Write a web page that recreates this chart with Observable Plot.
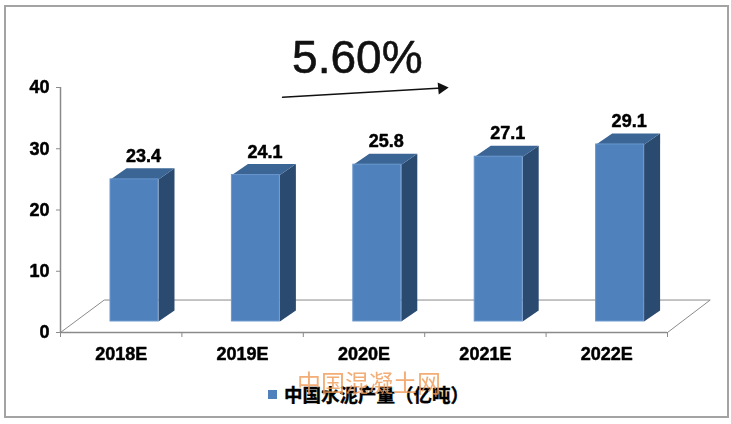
<!DOCTYPE html>
<html><head><meta charset="utf-8">
<script src="https://cdn.jsdelivr.net/npm/d3@7"></script>
<script src="https://cdn.jsdelivr.net/npm/@observablehq/plot@0.6"></script>
<style>
html,body{margin:0;padding:0;background:#fff;width:731px;height:424px;overflow:hidden}
#wrap{position:relative;width:731px;height:424px;font-family:"Liberation Sans",Arial,sans-serif}
#wrap svg{position:absolute;left:0;top:0;filter:blur(.35px)}
#border{position:absolute;left:4px;top:5px;width:721px;height:409px;border:2px solid #a3a3a3}
#legend{position:absolute;left:268px;top:382px;height:24px;display:flex;align-items:center;font:bold 18.5px "Noto Sans CJK SC",sans-serif;color:#000;white-space:nowrap;-webkit-text-stroke:.4px #000}
#legend i{display:inline-block;width:9px;height:9px;background:#4f81bd;margin-right:8px}
#legend span{margin-left:-1px}
#mark{position:absolute;left:297px;top:367px;font:24px "Noto Sans CJK SC",sans-serif;line-height:30px;color:#ef9a55;opacity:.8;white-space:nowrap}
</style></head>
<body><div id="wrap"><div id="border"></div><div id="chart"></div>
<div id="legend"><i></i><span>中国水泥产量（亿吨）</span></div>
<div id="mark">中国混凝土网</div></div>
<script>
const categories = ["2018E","2019E","2020E","2021E","2022E"];
const output = [23.4,24.1,25.8,27.1,29.1];
const yTicks = [0,10,20,30,40];
const growth = "5.60%";
const seriesName = "中国水泥产量（亿吨）";

// 3D projection constants in data units
const left = .412, right = .807, depthX = .132, depthY = 1.8, liftY = 1.8, topLift = 1.6;
const floorX = .36, floorY = 5.3;
const n = categories.length;
const rows = categories.map((c,i)=>({c,i,v:output[i],x1:i+left,x2:i+right,y1:liftY,y2:output[i]+topLift}));
const side = rows.flatMap(d=>[[d.x2,d.y1],[d.x2+depthX,d.y1+depthY],[d.x2+depthX,d.y2+depthY],[d.x2,d.y2],[d.x2,d.y1]].map(([x,y])=>({x,y,z:d.c})));
const top_ = rows.flatMap(d=>[[d.x1,d.y2],[d.x2,d.y2],[d.x2+depthX,d.y2+depthY],[d.x1+depthX,d.y2+depthY],[d.x1,d.y2]].map(([x,y])=>({x,y,z:d.c})));
const floor = [[0,0],[floorX,floorY],[n+floorX-.008,floorY],[n,0]].map(([x,y])=>({x,y}));
const arrowLine = [{x:1.829,y:38.4},{x:3.14,y:39.9}];
const gray = "#8a8a8a";
const bold = {fontWeight:"bold",stroke:"#000",strokeWidth:.5,fill:"#000"};

const plot = Plot.plot({
  width:731,height:424,marginLeft:60,marginRight:64,marginTop:87,marginBottom:92,
  style:{fontFamily:'"Liberation Sans",Arial,sans-serif',background:"transparent",overflow:"visible"},
  x:{domain:[0,n],axis:null},
  y:{domain:[0,40],axis:null},
  marks:[
    Plot.line(floor,{x:"x",y:"y",stroke:gray,strokeWidth:1}),
    Plot.ruleY([0],{stroke:gray,strokeWidth:1.5}),
    Plot.ruleX([0],{stroke:gray,strokeWidth:1.5}),
    Plot.axisY({ticks:yTicks,tickSize:4,stroke:gray,tickFormat:()=>"",label:null}),
    Plot.text(yTicks,{x:0,y:d=>d,text:d=>String(d),textAnchor:"end",dx:-11,fontSize:18,...bold}),
    Plot.axisX({ticks:d3.range(n+1),tickSize:5,stroke:gray,tickFormat:()=>"",label:null}),
    Plot.text(rows,{x:d=>d.i+.5,y:0,text:"c",dy:22,fontSize:18,...bold}),
    Plot.line(side,{x:"x",y:"y",z:"z",fill:"#2b4a70",stroke:"none"}),
    Plot.line(top_,{x:"x",y:"y",z:"z",fill:"#3a6595",stroke:"none"}),
    Plot.rect(rows,{x1:"x1",x2:"x2",y1:"y1",y2:"y2",fill:"#4f81bd",stroke:"#6a97cc",strokeWidth:1}),
    Plot.text(rows,{x:d=>d.x1+.272,y:d=>d.y2+depthY,text:d=>d.v.toFixed(1),dy:-12,fontSize:18,...bold}),
    Plot.line(arrowLine,{x:"x",y:"y",stroke:"#111",strokeWidth:1.5}),
    Plot.dot([arrowLine[1]],{x:"x",y:"y",symbol:"triangle",r:4.5,fill:"#111",stroke:"none",rotate:85}),
    Plot.text([growth],{x:[2.445],y:[44.7],text:d=>d,fontSize:46,fill:"#111",stroke:"#111",strokeWidth:.6})
  ]
});
document.getElementById("chart").append(plot);
</script></body></html>
